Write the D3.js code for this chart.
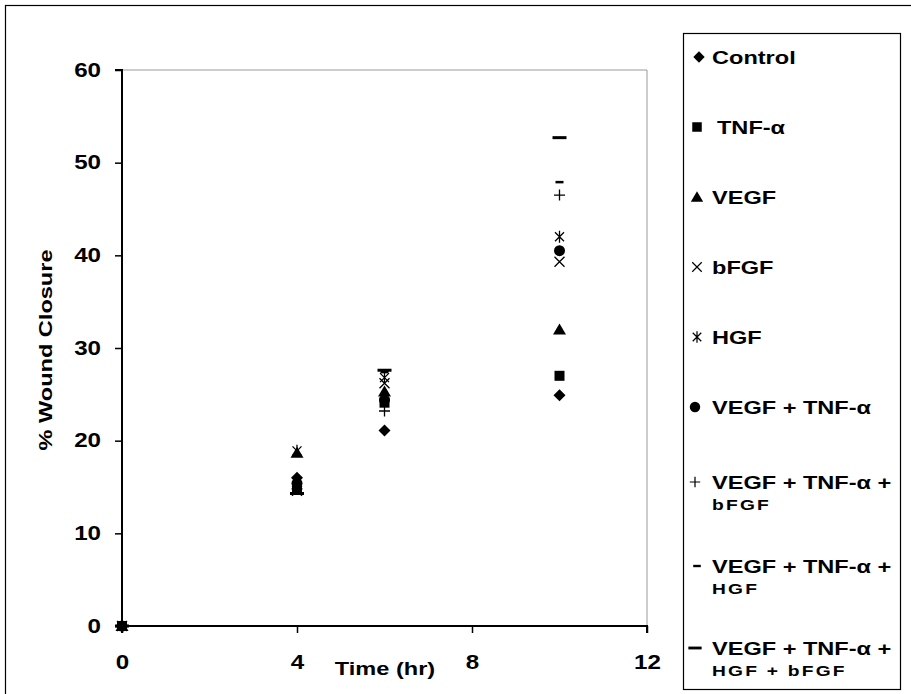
<!DOCTYPE html>
<html><head><meta charset="utf-8">
<script src="https://cdn.jsdelivr.net/npm/d3@7"></script>
<style>body{margin:0;background:#fff}svg{display:block}text{font-family:"Liberation Sans",Arial,sans-serif;font-weight:bold}</style>
</head><body>
<svg id="c" width="911" height="694"></svg>
<script>
const times = [0, 4, 6, 10];
const seriesNames = ["Control","TNF-α","VEGF","bFGF","HGF","VEGF + TNF-α","VEGF + TNF-α + bFGF","VEGF + TNF-α + HGF","VEGF + TNF-α + HGF + bFGF"];
const control      = [0, 16.0, 21.1, 24.9];
const tnf          = [0, 15.0, 24.1, 27.0];
const vegf         = [0, 18.7, 25.3, 32.0];
const bfgf         = [0, 14.6, 26.2, 39.3];
const hgf          = [0, 18.9, 26.8, 42.0];
const vegfTnf      = [0, 15.4, 24.4, 40.5];
const vegfTnfBfgf  = [0, 14.8, 23.2, 46.5];
const vegfTnfHgf   = [0, 14.4, 27.4, 47.9];
const vegfTnfHgfB  = [0, 14.3, 27.6, 52.7];
const allSeries = [control, tnf, vegf, bfgf, hgf, vegfTnf, vegfTnfBfgf, vegfTnfHgf, vegfTnfHgfB];
const xTicks = [0, 4, 8, 12];
const yTicks = [0, 10, 20, 30, 40, 50, 60];
const legendLines = [["Control"],["TNF-α"],["VEGF"],["bFGF"],["HGF"],["VEGF + TNF-α"],["VEGF + TNF-α +","bFGF"],["VEGF + TNF-α +","HGF"],["VEGF + TNF-α +","HGF + bFGF"]];

const SX = 1.24;
function stretch(sel){
  sel.attr("transform", function(){
    const xx = +this.getAttribute("x") || 0;
    return `translate(${xx},0) scale(${SX},1) translate(${-xx},0)`;
  });
}

const svg = d3.select("#c");
svg.append("rect").attr("x",5.5).attr("y",5.5).attr("width",910).attr("height",700).attr("fill","none").attr("stroke","#000").attr("stroke-width",1.2);

const L=122, R=647, T=70, B=626;
const x = d3.scaleLinear().domain([0,12]).range([L,R]);
const y = d3.scaleLinear().domain([0,60]).range([B,T]);

svg.append("path").attr("d",`M${L},${T}H${R}V${B}`).attr("fill","none").attr("stroke","#999").attr("stroke-width",1);

const xa = svg.append("g").attr("transform",`translate(0,${B})`).call(d3.axisBottom(x).tickValues(xTicks).tickSize(7).tickPadding(22));
const ya = svg.append("g").attr("transform",`translate(${L},0)`).call(d3.axisLeft(y).tickValues(yTicks).tickSize(7).tickPadding(14));
[xa,ya].forEach(a=>{a.select(".domain").attr("stroke","#000").attr("stroke-width",2);
  a.selectAll(".tick line").attr("stroke","#000").attr("stroke-width",1.5);
  a.selectAll("text").attr("font-size",19.5).attr("fill","#000").attr("font-family","Liberation Sans, Arial, sans-serif").attr("font-weight","bold").call(stretch);});
xa.select(".domain").attr("d",`M${L},7V0H${R}V7`);
ya.select(".domain").attr("d",`M-7,${T}H0V${B}H-7`);

svg.append("text").attr("x",385).attr("y",675).attr("text-anchor","middle").attr("font-size",19).text("Time (hr)").call(stretch);
svg.append("g").attr("transform","translate(52,350) rotate(-90)")
  .append("text").attr("x",0).attr("y",0).attr("text-anchor","middle").attr("font-size",19).text("% Wound Closure").call(stretch);

function marker(g, i){
  switch(i){
    case 0: g.append("path").attr("d","M0,-6L6,0L0,6L-6,0Z").attr("fill","#000"); break;
    case 1: g.append("rect").attr("x",-5).attr("y",-5).attr("width",10).attr("height",10).attr("fill","#000"); break;
    case 2: g.append("path").attr("d","M0,-6L6.5,5L-6.5,5Z").attr("fill","#000"); break;
    case 3: g.append("path").attr("d","M-5,-5L5,5M-5,5L5,-5").attr("stroke","#000").attr("stroke-width",1.3); break;
    case 4: g.append("path").attr("d","M-4.5,-4.5L4.5,4.5M-4.5,4.5L4.5,-4.5M0,-6V6").attr("stroke","#000").attr("stroke-width",1.3); break;
    case 5: g.append("circle").attr("r",5.5).attr("fill","#000"); break;
    case 6: g.append("path").attr("d","M-5.5,0H5.5M0,-5.5V5.5").attr("stroke","#000").attr("stroke-width",1.3); break;
    case 7: g.append("path").attr("d","M-4,0H4").attr("stroke","#000").attr("stroke-width",2.5); break;
    case 8: g.append("path").attr("d","M-7,0H7").attr("stroke","#000").attr("stroke-width",3); break;
  }
}

allSeries.forEach((vals,i)=>{
  vals.forEach((v,j)=>{
    const g = svg.append("g").attr("transform",`translate(${x(times[j])},${y(v)})`);
    marker(g,i);
  });
});

svg.append("rect").attr("x",683.5).attr("y",33.5).attr("width",217).attr("height",656).attr("fill","#fff").attr("stroke","#000").attr("stroke-width",1.2);
const legY = [57,127,197,267,337,407,482,566,648];
const markX = [699,697,697,697,697,695,695,697,695];
const textX = [712,717,712,712,712,712,712,712,712];
legendLines.forEach((lines,i)=>{
  const g = svg.append("g").attr("transform",`translate(${markX[i]},${legY[i]})`);
  const m = g.append("g").attr("transform", "scale(0.95)");
  marker(m,i);
  lines.forEach((t,k)=>{
    const tx = g.append("text").attr("x",textX[i]-markX[i]).attr("y",7+k*21)
      .attr("font-size",k===0?19:15.5).attr("letter-spacing",k===0?0:1.8).text(t);
    tx.call(stretch);
  });
});
</script>
</body></html>
